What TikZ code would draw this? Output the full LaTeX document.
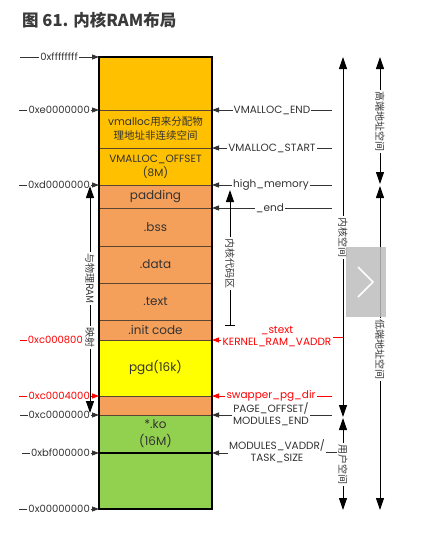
\documentclass[tikz,border=0pt]{standalone}
\usepackage{fontspec}
\setmainfont{Poppins}
\newfontfamily\cjk{Noto Sans CJK SC}
\usetikzlibrary{arrows.meta}
\definecolor{ctop}{HTML}{FFC000}
\definecolor{corange}{HTML}{F5A05A}
\definecolor{cyellow}{HTML}{FFFF00}
\definecolor{cgreen}{HTML}{92D050}
\definecolor{csep}{HTML}{5A4530}
\definecolor{ctxt}{HTML}{333333}
\definecolor{cred}{HTML}{FF0000}
\definecolor{ctitle}{HTML}{3A3A3A}
\definecolor{cbtn}{HTML}{BDBDBD}
\begin{document}
\begin{tikzpicture}[x=1pt,y=-1pt,
  sec/.style={draw=csep,line width=1pt,minimum width=113pt,inner sep=0pt,outer sep=0pt,text=ctxt,align=center,font=\fontsize{12}{14}\selectfont},
  lbl/.style={font=\fontsize{10}{12}\selectfont,text=ctxt,inner sep=1pt,align=center},
  rlbl/.style={lbl,font=\fontsize{10.5}{12}\selectfont,fill=white},
  vtxt/.style={font=\cjk\fontsize{10}{10}\selectfont,rotate=-90,fill=white,inner sep=1.5pt,text=ctxt},
  smallarr/.style={-{Triangle[width=5pt,length=7pt]}},
  bigarr/.style={line width=1pt,{Triangle[width=8pt,length=12pt]}-{Triangle[width=8pt,length=12pt]}},
  thin/.style={draw=ctxt,line width=0.8pt}
]
\useasboundingbox (0,0) rectangle (431,542);
% title
\node[anchor=west,font=\cjk\bfseries\fontsize{16.5}{17}\selectfont,text=ctitle,inner sep=0pt] (title) at (22,20) {图 61. 内核RAM布局};
% sections
\node[sec,fill=ctop,minimum height=53pt] (s1) at (155.5,83.5) {};
\node[sec,fill=ctop,minimum height=38pt,font=\fontsize{10.5}{14}\selectfont] (s2) at (155.5,129) {vmalloc{\cjk 用来分配物}\\{\cjk 理地址非连续空间}};
\node[sec,fill=ctop,minimum height=37pt,font=\fontsize{10.5}{14}\selectfont] (s3) at (155.5,166.5) {VMALLOC\_OFFSET\\(8M)};
\node[sec,fill=corange,minimum height=23pt] (s4) at (155.5,196.5) {padding};
\node[sec,fill=corange,minimum height=38pt] (s5) at (155.5,227) {.bss};
\node[sec,fill=corange,minimum height=37pt] (s6) at (155.5,264.5) {.data};
\node[sec,fill=corange,minimum height=37pt] (s7) at (155.5,301.5) {.text};
\node[sec,fill=corange,minimum height=20pt] (s8) at (155.5,330) {.init code};
\node[sec,fill=cyellow,minimum height=56pt] (s9) at (155.5,368) {pgd(16k)};
\node[sec,fill=corange,minimum height=19pt] (s10) at (155.5,405.5) {};
\node[sec,fill=cgreen,minimum height=38pt,font=\fontsize{12}{17}\selectfont] (s11) at (155.5,434) {*.ko\\(16M)};
\node[sec,fill=cgreen,minimum height=56pt] (s12) at (155.5,481) {};
\draw[line width=2.5pt] (s1.north west) rectangle (s12.south east);
\draw[line width=2.5pt] (s12.north west) -- (s12.north east);
% left labels
\node[lbl,anchor=east] (l1) at (79,57) {0xffffffff};
\node[lbl,anchor=east] (l2) at (91,110) {0xe0000000};
\node[lbl,anchor=east] (l3) at (91,185) {0xd0000000};
\node[lbl,anchor=east,text=cred] (l4) at (84,340) {0xc000800};
\node[lbl,anchor=east,text=cred] (l5) at (91,396) {0xc0004000};
\node[lbl,anchor=east] (l6) at (91,415) {0xc0000000};
\node[lbl,anchor=east] (l7) at (91,453) {0xbf000000};
\node[lbl,anchor=east] (l8) at (91,509) {0x00000000};
\draw[thin,smallarr] (l1.east) -- (s1.north west);
\draw[thin] (l1.west) -- ++(-19,0);
\draw[thin,smallarr] (l2.east) -- (s2.north west);
\draw[thin] (l2.west) -- ++(-8,0);
\draw[thin,smallarr] (l3.east) -- (s4.north west);
\draw[thin] (l3.west) -- ++(-8,0);
\draw[thin,draw=cred] (l4.west) -- ++(-7,0);
\draw[thin,draw=cred,smallarr] (l5.east) -- (s10.north west);
\draw[thin,draw=cred] (l5.west) -- ++(-8,0);
\draw[thin,smallarr] (l6.east) -- (s11.north west);
\draw[thin] (l6.west) -- ++(-8,0);
\draw[thin,smallarr] (l7.east) -- (s12.north west);
\draw[thin] (l7.west) -- ++(-8,0);
\draw[thin,smallarr] (l8.east) -- (s12.south west);
\draw[thin] (l8.west) -- ++(-8,0);
% mapping arrow
\coordinate (m1) at (90,186);
\coordinate (m2) at (90,413);
\draw[bigarr] (m1) -- (m2);
\node[vtxt] (mt1) at (90,278.5) {与物理RAM};
\node[vtxt] (mt2) at (90,337.5) {映射};
% right labels
\coordinate (e1) at (332,110);
\coordinate (e2) at (332,148);
\coordinate (e3) at (332,185);
\coordinate (e4) at (332,208);
\coordinate (e5) at (343,337);
\coordinate (e6) at (332,396);
\coordinate (e7) at (332,415);
\coordinate (e8) at (338,452);
\node[rlbl] (r1) at (272,110) {VMALLOC\_END};
\node[rlbl] (r2) at (272,148) {VMALLOC\_START};
\node[rlbl] (r3) at (271,185) {high\_memory};
\node[rlbl] (r4) at (270,208) {\_end};
\node[rlbl,text=cred] (r5) at (277,337) {\_stext\\KERNEL\_RAM\_VADDR};
\node[rlbl,text=cred] (r6) at (271,396) {swapper\_pg\_dir};
\node[rlbl] (r7) at (271,414) {PAGE\_OFFSET/\\MODULES\_END};
\node[rlbl] (r8) at (277,451) {MODULES\_VADDR/\\TASK\_SIZE};
\draw[thin,smallarr] (r1.west) -- (s2.north east);
\draw[thin] (r1.east) -- (e1);
\draw[thin,smallarr] (r2.west) -- (s3.north east);
\draw[thin] (r2.east) -- (e2);
\draw[thin,smallarr] (r3.west) -- (s4.north east);
\draw[thin] (r3.east) -- (e3);
\draw[thin,smallarr] (r4.west) -- (s5.north east);
\draw[thin] (r4.east) -- (e4);
\draw[thin,draw=cred,smallarr] (r5.west |- s9.north east) -- (s9.north east);
\draw[thin,draw=cred] (r5.east |- e5) -- (e5);
\draw[thin,draw=cred,smallarr] (r6.west) -- (s10.north east);
\draw[thin,draw=cred] (r6.east) -- (e6);
\draw[thin,smallarr] (r7.west |- s11.north east) -- (s11.north east);
\draw[thin] (r7.east |- e7) -- (e7);
\draw[thin,smallarr] (r8.west |- s12.north east) -- (s12.north east);
\draw[thin] (r8.east |- e8) -- (e8);
% kernel code arrow
\coordinate (k1) at (230,190);
\coordinate (k2) at (230,326);
\draw[line width=1pt,{Triangle[width=8pt,length=12pt]}-{Bar[width=10pt]}] (k1) -- (k2);
\node[vtxt] (kt) at (230,263) {内核代码区};
% kernel space / user space
\coordinate (v1) at (343,57);
\coordinate (v2) at (343,417);
\coordinate (v3) at (343,418);
\coordinate (v4) at (343,510);
\draw[bigarr] (v1) -- (v2);
\draw[bigarr] (v3) -- (v4);
\node[vtxt] (vt1) at (343,237) {内核空间};
\node[vtxt] (vt2) at (343,464) {用户空间};
% high / low address space
\coordinate (h1) at (380,57);
\coordinate (h2) at (380,184);
\coordinate (h3) at (380,186);
\coordinate (h4) at (380,510);
\draw[bigarr] (h1) -- (h2);
\draw[bigarr] (h3) -- (h4);
\node[vtxt] (ht1) at (380,121) {高端地址空间};
\node[vtxt] (ht2) at (380,349) {低端地址空间};
% overlay button
\fill[cbtn,opacity=0.85] (346,247) rectangle (386,317);
\draw[white,line width=1.6pt] (358,267) -- (373,282) -- (358,297);
\end{tikzpicture}
\end{document}
